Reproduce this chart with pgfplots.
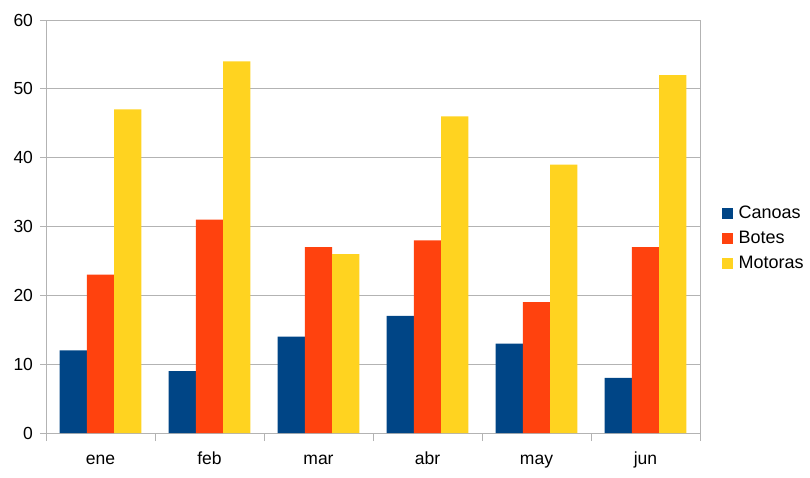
\documentclass[border=0pt]{standalone}
\usepackage{pgfplots}
\pgfplotsset{compat=1.18}
\usepackage{fontspec}
\setmainfont{Liberation Sans}
\definecolor{canoas}{HTML}{004586}
\definecolor{botes}{HTML}{FF420E}
\definecolor{motoras}{HTML}{FFD320}
\definecolor{gridgray}{HTML}{B3B3B3}
\begin{document}
\begin{tikzpicture}
\fontsize{17.5}{21}\selectfont
\path[use as bounding box] (-46pt,-44pt) rectangle (764pt,433pt);
\begin{axis}[
    at={(0pt,0pt)}, anchor=south west,
    scale only axis,
    width=654pt, height=413pt,
    ymin=0, ymax=60,
    ytick={0,10,...,60},
    xmin=-0.5, xmax=5.5,
    xtick={0,1,2,3,4,5},
    xticklabels={ene,feb,mar,abr,may,jun},
    minor xtick={-0.5,0.5,...,5.5},
    major x tick style={draw=none},
    minor tick length=8pt,
    major tick length=6pt,
    tick align=outside,
    xtick pos=bottom, ytick pos=left,
    ymajorgrids=true,
    grid style={gridgray, line width=1pt},
    axis line style={gridgray, line width=1pt},
    tick style={gridgray, line width=1pt},
    ybar=0pt,
    bar width=0.25,
    xticklabel style={anchor=base, yshift=-25pt},
    yticklabel style={xshift=-1pt},
    /pgf/number format/assume math mode=true,
    ticklabel style={font=\fontsize{17.5}{21}\selectfont},
    legend style={at={(1.028,0.47)}, anchor=west, draw=none, fill=none,
        font=\fontsize{18}{21}\selectfont, row sep=6pt},
    legend image code/.code={\fill[#1] (0pt,-5.5pt) rectangle (11pt,5.5pt);
        \path (15pt,0pt);},
    legend cell align=left,
]
\addplot[fill=canoas, draw=none] coordinates {(0,12)(1,9)(2,14)(3,17)(4,13)(5,8)};
\addplot[fill=botes, draw=none] coordinates {(0,23)(1,31)(2,27)(3,28)(4,19)(5,27)};
\addplot[fill=motoras, draw=none] coordinates {(0,47)(1,54)(2,26)(3,46)(4,39)(5,52)};
\legend{Canoas,Botes,Motoras}
\end{axis}
\end{tikzpicture}
\end{document}
